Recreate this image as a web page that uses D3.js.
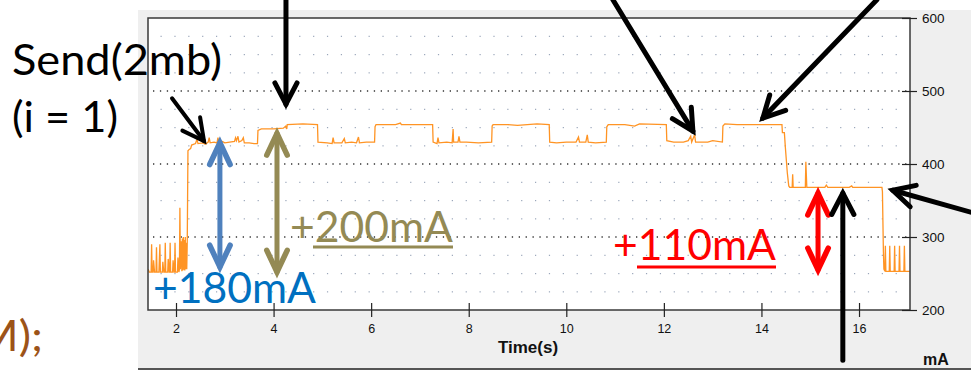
<!DOCTYPE html>
<html>
<head>
<meta charset="utf-8">
<script src="https://cdn.jsdelivr.net/npm/d3@7"></script>
<style>
  body { margin: 0; background: #fff; }
  svg { display: block; }
</style>
</head>
<body>
<div id="chart"></div>
<script>
// current trace, [time (s), current (mA)]
const idleBefore = [
  [1.43,256],[1.45,252],[1.49,252],[1.50,290],[1.51,252],[1.53,252],[1.54,268],[1.56,252],
  [1.59,252],[1.60,286],[1.61,252],[1.65,252],[1.67,290],[1.68,252],[1.72,252],[1.73,266],
  [1.75,252],[1.77,252],[1.78,292],[1.79,252],[1.83,252],[1.84,270],[1.86,252],[1.87,252],
  [1.88,292],[1.89,252],[1.93,252],[1.94,268],[1.96,252],[1.97,252],[1.98,292],[1.99,252],
  [2.03,252],[2.04,272],[2.06,252],[2.07,256],[2.08,340],[2.09,256],[2.11,294],[2.12,253],
  [2.13,298],[2.14,254],[2.15,300],[2.16,255],[2.17,296],[2.18,254],[2.19,300],[2.20,256],
  [2.21,292],[2.22,256],[2.23,290]
];
const sendPhase = [
  [2.245,418],[2.27,420],[2.30,421],[2.32,426],[2.40,428],[2.43,434],[2.45,428],[2.55,429],
  [2.60,427],[2.66,430],[2.68,436],[2.70,429],[2.78,430],[2.84,429],[2.86,436],[2.88,429],
  [2.95,431],[3.00,429],[3.10,430],[3.20,431],[3.22,436],[3.24,432],[3.27,438],[3.29,430],
  [3.35,432],[3.38,436],[3.40,429],[3.50,429],[3.60,428],[3.67,428],
  [3.68,446],[3.75,448],[4.00,448],[4.20,449],[4.25,452],[4.27,448],[4.28,454],[4.60,455],[4.90,454],
  [4.91,430],[5.10,429],[5.20,428],[5.22,436],[5.24,429],[5.40,429],[5.45,435],[5.47,429],
  [5.60,430],[5.70,429],[5.74,437],[5.76,429],[5.90,430],[6.07,430],
  [6.08,451],[6.10,454],[6.50,454],[6.60,456],[6.62,454],[7.00,454],[7.26,454],
  [7.27,430],[7.35,428],[7.37,436],[7.39,429],[7.55,430],[7.66,429],[7.68,448],[7.69,430],
  [7.78,430],[7.80,438],[7.82,430],[7.95,430],[8.20,429],[8.47,430],
  [8.48,452],[8.50,454],[8.80,454],[9.00,453],[9.40,455],[9.65,454],
  [9.66,430],[9.80,429],[10.00,430],[10.20,430],[10.25,437],[10.27,430],[10.40,430],
  [10.43,440],[10.45,430],[10.60,429],[10.82,430],
  [10.83,451],[10.86,454],[11.20,454],[11.40,452],[11.50,455],[12.05,454],
  [12.06,432],[12.20,430],[12.40,430],[12.50,432],[12.55,438],[12.57,430],[12.63,440],
  [12.65,430],[12.90,430],[13.00,432],[13.20,430],
  [13.21,452],[13.25,455],[13.50,454],[14.00,454],[14.42,454]
];
const tailPhase = [
  [14.43,443],[14.47,443],[14.49,423],[14.53,388],[14.56,370],[14.58,368],[14.63,368],
  [14.64,386],[14.65,368],[14.90,368],[14.91,403],[14.93,368],[15.30,368],[15.33,371],
  [15.36,368],[15.80,368],[15.85,370],[15.87,368],[16.47,368],[16.48,362],[16.50,279],[16.51,256]
];
const idleAfter = [
  [16.53,253],[16.54,288],[16.55,253],[16.62,253],[16.63,288],[16.64,253],[16.72,253],
  [16.73,288],[16.74,253],[16.82,253],[16.83,288],[16.84,253],[16.92,253],[16.93,288],
  [16.94,253],[17.04,253]
];

const xTicks = [2, 4, 6, 8, 10, 12, 14, 16];
const yTicks = [200, 300, 400, 500, 600];
const majorRows = [300, 400, 500];
const minorRows = [225, 250, 275, 325, 350, 375, 425, 450, 475, 525, 550, 575];

// annotation arrows in chart units [time, mA]
const pointers = [
  { from: [4.254, 625], to: [4.254, 482], w: 5 },
  { from: [10.955, 625], to: [12.595, 445], w: 5 },
  { from: [16.366, 625], to: [14.03, 463], w: 5 },
  { from: [1.918, 490], to: [2.574, 431.5], w: 4 },
  { from: [15.668, 131], to: [15.668, 360], w: 5 },
  { from: [18.29, 334], to: [16.69, 364], w: 5 }
];
const spans = [
  { t: 2.90, lo: 259, hi: 429, color: "#4f81bd" },
  { t: 4.07, lo: 252, hi: 442, color: "#948a54" },
  { t: 15.16, lo: 255, hi: 360, color: "#ff0000" }
];

const W = 971, H = 375;
const plot = { left: 148, top: 18, right: 910, bottom: 310 };

const svg = d3.select("#chart").append("svg")
  .attr("width", W).attr("height", H)
  .style("font-family", "'Liberation Sans', Arial, sans-serif");

const x = d3.scaleLinear().domain([1.426, 17.045]).range([plot.left, plot.right]);
const y = d3.scaleLinear().domain([200, 600]).range([plot.bottom, plot.top]);

// grey meter window
svg.append("rect").attr("x", 138).attr("y", 10).attr("width", W - 138).attr("height", 359)
  .attr("fill", "#efefef");
svg.append("line").attr("x1", 138).attr("x2", W).attr("y1", 369).attr("y2", 369)
  .attr("stroke", "#555").attr("stroke-width", 2);

svg.append("rect")
  .attr("x", plot.left).attr("y", plot.top)
  .attr("width", plot.right - plot.left).attr("height", plot.bottom - plot.top)
  .attr("fill", "#fff");

// minor dot grid
const dotCols = d3.range(1.6926, 17.04, 0.2843);
const dots = svg.append("g").attr("fill", "#9aa6ba");
minorRows.forEach(v => {
  dots.selectAll(null).data(dotCols).join("rect")
    .attr("x", d => x(d) - 0.5).attr("y", y(v) - 0.5)
    .attr("width", 1.2).attr("height", 1.2);
});

// major dotted rows
svg.append("g").selectAll("line").data(majorRows).join("line")
  .attr("x1", plot.left).attr("x2", plot.right)
  .attr("y1", d => y(d)).attr("y2", d => y(d))
  .attr("stroke", "#333").attr("stroke-width", 1.3)
  .attr("stroke-dasharray", "1.3,5.6").attr("stroke-dashoffset", -5);

// trace
svg.append("clipPath").attr("id", "clip").append("rect")
  .attr("x", plot.left).attr("y", plot.top)
  .attr("width", plot.right - plot.left).attr("height", plot.bottom - plot.top);

const trace = idleBefore.concat(sendPhase, tailPhase, idleAfter);
const line = d3.line().x(d => x(d[0])).y(d => y(d[1]));
svg.append("path").datum(trace)
  .attr("clip-path", "url(#clip)")
  .attr("d", line)
  .attr("fill", "none").attr("stroke", "#ff9424").attr("stroke-width", 1.3);

// frame
svg.append("rect")
  .attr("x", plot.left).attr("y", plot.top)
  .attr("width", plot.right - plot.left).attr("height", plot.bottom - plot.top)
  .attr("fill", "none").attr("stroke", "#3a3a3a").attr("stroke-width", 1.5);

// axes
const xAxis = svg.append("g").attr("transform", `translate(0,${plot.bottom})`)
  .call(d3.axisBottom(x).tickValues(xTicks).tickSize(7).tickFormat(d3.format("d")));
xAxis.select(".domain").remove();
xAxis.selectAll(".tick line").attr("y1", -7).attr("stroke", "#222").attr("stroke-width", 1.2);
xAxis.selectAll(".tick text").attr("y", 14).attr("font-size", 12.5)
  .attr("font-family", "'Liberation Sans', Arial, sans-serif").attr("fill", "#111");

const yAxis = svg.append("g").attr("transform", `translate(${plot.right},0)`)
  .call(d3.axisRight(y).tickValues(yTicks).tickSize(7));
yAxis.select(".domain").remove();
yAxis.selectAll(".tick line").attr("x1", -8).attr("stroke", "#222").attr("stroke-width", 1.2);
yAxis.selectAll(".tick text").attr("x", 12).attr("font-size", 13.5)
  .attr("font-family", "'Liberation Sans', Arial, sans-serif").attr("fill", "#111");

svg.append("text").attr("x", 528).attr("y", 353).attr("text-anchor", "middle")
  .attr("font-size", 17).attr("font-weight", "bold").attr("fill", "#111").text("Time(s)");
svg.append("text").attr("x", 923).attr("y", 365)
  .attr("font-size", 16).attr("font-weight", "bold").attr("fill", "#111").text("mA");

// arrows
function chevron(p, q, len, ang) {
  const a = Math.atan2(q[1] - p[1], q[0] - p[0]);
  return [
    [q[0] - len * Math.cos(a - ang), q[1] - len * Math.sin(a - ang)],
    q,
    [q[0] - len * Math.cos(a + ang), q[1] - len * Math.sin(a + ang)]
  ];
}
const pl = d3.line();
const ann = svg.append("g").attr("fill", "none")
  .attr("stroke-linecap", "round").attr("stroke-linejoin", "miter");

spans.forEach(s => {
  const top = [x(s.t), y(s.hi)], bot = [x(s.t), y(s.lo)];
  ann.append("path").attr("d", pl([top, bot])).attr("stroke", s.color).attr("stroke-width", 5);
  ann.append("path").attr("d", pl(chevron(bot, top, 24, 0.44))).attr("stroke", s.color).attr("stroke-width", 5.5);
  ann.append("path").attr("d", pl(chevron(top, bot, 24, 0.44))).attr("stroke", s.color).attr("stroke-width", 5.5);
});

pointers.forEach(p => {
  const a = [x(p.from[0]), y(p.from[1])], b = [x(p.to[0]), y(p.to[1])];
  ann.append("path").attr("d", pl([a, b])).attr("stroke", "#000").attr("stroke-width", p.w);
  ann.append("path").attr("d", pl(chevron(a, b, 24, 0.48))).attr("stroke", "#000").attr("stroke-width", p.w);
});

// slide labels
const big = "Lato, 'Open Sans', sans-serif";
function label(txt, x0, y0, width, color) {
  return svg.append("text").attr("x", x0).attr("y", y0)
    .attr("font-family", big).attr("font-size", 42).attr("fill", color)
    .attr("textLength", width).attr("lengthAdjust", "spacingAndGlyphs").text(txt);
}
label("Send(2mb)", 12, 75, 210, "#000");
label("(i = 1)", 12, 132, 106, "#000");
label("M);", -24, 351, 67, "#9c5318");
label("+180mA", 153, 303, 163, "#0070c0");
label("+200mA", 290, 242, 163, "#948a54");
label("+110mA", 613, 260, 163, "#ff0000");

svg.append("line").attr("x1", 313).attr("x2", 453).attr("y1", 247).attr("y2", 247)
  .attr("stroke", "#948a54").attr("stroke-width", 3);
svg.append("line").attr("x1", 637).attr("x2", 776).attr("y1", 267).attr("y2", 267)
  .attr("stroke", "#ff0000").attr("stroke-width", 3);
</script>
</body>
</html>
